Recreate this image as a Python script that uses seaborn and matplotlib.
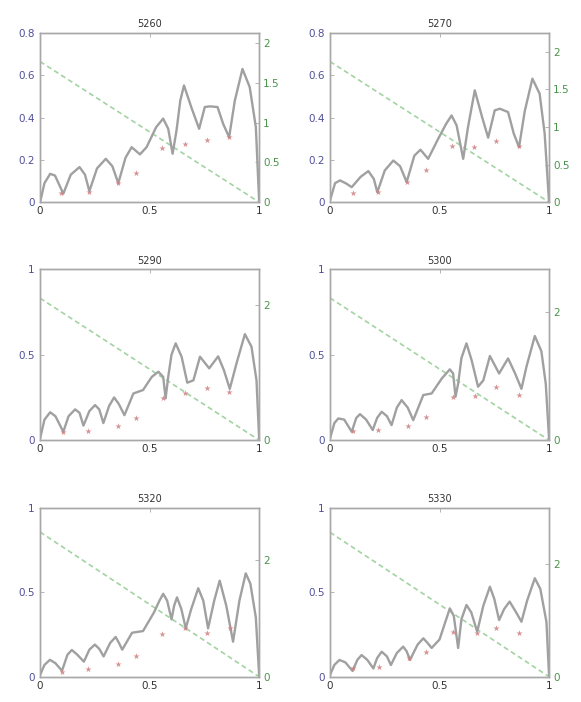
import matplotlib
matplotlib.use("Agg")
import matplotlib.pyplot as plt
import pandas as pd
import seaborn as sns

sns.set_style("white")
plt.rcParams['font.family'] = ['DejaVu Sans']

titles = ['5260', '5270', '5290', '5300', '5320', '5330']

c1_x = [0, 0.02, 0.046, 0.068, 0.106, 0.14, 0.18, 0.205, 0.225, 0.26, 0.30, 0.33, 0.357, 0.39, 0.418, 0.456, 0.486, 0.53,
        0.562, 0.585, 0.605, 0.623, 0.64, 0.657, 0.69, 0.726, 0.752, 0.775, 0.81, 0.836, 0.863, 0.889, 0.924, 0.957, 0.985, 1.0]
c1_y = [0, 0.09, 0.134, 0.126, 0.04, 0.13, 0.166, 0.13, 0.052, 0.16, 0.205, 0.17, 0.09, 0.21, 0.26, 0.226, 0.26, 0.355,
        0.395, 0.347, 0.229, 0.34, 0.48, 0.552, 0.45, 0.347, 0.45, 0.453, 0.45, 0.37, 0.307, 0.48, 0.63, 0.544, 0.355, 0.008]
m1_x = [0.096, 0.225, 0.357, 0.44, 0.558, 0.66, 0.76, 0.863]
m1_y = [0.043, 0.05, 0.09, 0.139, 0.257, 0.273, 0.292, 0.307]

c2_x = [0, 0.023, 0.046, 0.076, 0.099, 0.14, 0.175, 0.2, 0.216, 0.25, 0.289, 0.32, 0.35, 0.385, 0.413, 0.448, 0.494, 0.53,
        0.555, 0.578, 0.608, 0.63, 0.661, 0.695, 0.722, 0.752, 0.775, 0.813, 0.839, 0.863, 0.889, 0.924, 0.957, 0.98, 1.0]
c2_y = [0.008, 0.09, 0.103, 0.087, 0.071, 0.12, 0.147, 0.11, 0.047, 0.15, 0.197, 0.17, 0.095, 0.22, 0.248, 0.205, 0.30, 0.37,
        0.41, 0.363, 0.205, 0.355, 0.529, 0.40, 0.305, 0.434, 0.442, 0.426, 0.324, 0.26, 0.43, 0.584, 0.513, 0.324, 0.0]
m2_x = [0.106, 0.22, 0.35, 0.44, 0.558, 0.656, 0.76, 0.863]
m2_y = [0.043, 0.05, 0.095, 0.15, 0.268, 0.26, 0.289, 0.265]

c3_x = [0, 0.02, 0.046, 0.07, 0.106, 0.13, 0.16, 0.18, 0.198, 0.225, 0.251, 0.27, 0.289, 0.315, 0.338, 0.36, 0.385, 0.426,
        0.47, 0.51, 0.54, 0.562, 0.573, 0.585, 0.6, 0.619, 0.646, 0.672, 0.7, 0.73, 0.772, 0.813, 0.839, 0.866, 0.897, 0.935,
        0.965, 0.988, 1.0]
c3_y = [0.01, 0.12, 0.163, 0.14, 0.049, 0.14, 0.18, 0.16, 0.085, 0.17, 0.205, 0.18, 0.1, 0.2, 0.25, 0.21, 0.146, 0.273,
        0.293, 0.37, 0.40, 0.37, 0.244, 0.37, 0.5, 0.566, 0.488, 0.336, 0.35, 0.488, 0.42, 0.49, 0.41, 0.30, 0.45, 0.62,
        0.547, 0.35, 0.01]
m3_x = [0.106, 0.22, 0.357, 0.44, 0.562, 0.66, 0.76, 0.863]
m3_y = [0.05, 0.053, 0.082, 0.127, 0.244, 0.277, 0.307, 0.28]

c4_x = [0, 0.02, 0.038, 0.065, 0.099, 0.12, 0.137, 0.165, 0.195, 0.215, 0.236, 0.26, 0.281, 0.305, 0.327, 0.355, 0.38, 0.426,
        0.464, 0.51, 0.547, 0.562, 0.573, 0.585, 0.6, 0.623, 0.646, 0.676, 0.7, 0.73, 0.772, 0.813, 0.845, 0.874, 0.897, 0.935,
        0.965, 0.985, 1.0]
c4_y = [0.01, 0.1, 0.127, 0.12, 0.049, 0.13, 0.152, 0.12, 0.059, 0.13, 0.166, 0.14, 0.088, 0.19, 0.234, 0.19, 0.117, 0.264,
        0.273, 0.36, 0.414, 0.39, 0.254, 0.33, 0.48, 0.566, 0.47, 0.3125, 0.35, 0.492, 0.39, 0.478, 0.39, 0.30, 0.43, 0.609,
        0.52, 0.33, 0.01]
m4_x = [0.103, 0.22, 0.357, 0.44, 0.562, 0.66, 0.76, 0.863]
m4_y = [0.053, 0.059, 0.082, 0.133, 0.254, 0.26, 0.312, 0.264]

c5_x = [0, 0.02, 0.045, 0.07, 0.10, 0.125, 0.145, 0.17, 0.20, 0.225, 0.25, 0.27, 0.29, 0.32, 0.345, 0.36, 0.375, 0.42, 0.47,
        0.52, 0.545, 0.562, 0.58, 0.6, 0.612, 0.625, 0.645, 0.665, 0.69, 0.722, 0.745, 0.767, 0.795, 0.82, 0.85, 0.881, 0.91,
        0.939, 0.96, 0.985, 1.0]
c5_y = [0.01, 0.07, 0.10, 0.08, 0.035, 0.13, 0.158, 0.13, 0.089, 0.16, 0.19, 0.165, 0.12, 0.2, 0.235, 0.2, 0.16, 0.26, 0.27,
        0.38, 0.45, 0.49, 0.45, 0.339, 0.42, 0.469, 0.40, 0.286, 0.40, 0.523, 0.45, 0.286, 0.45, 0.568, 0.42, 0.207, 0.45,
        0.611, 0.55, 0.35, 0.01]
m5_x = [0.1, 0.22, 0.357, 0.44, 0.558, 0.66, 0.76, 0.866]
m5_y = [0.03, 0.045, 0.073, 0.124, 0.25, 0.286, 0.256, 0.286]

c6_x = [0, 0.02, 0.043, 0.07, 0.103, 0.125, 0.144, 0.17, 0.198, 0.215, 0.236, 0.26, 0.278, 0.305, 0.334, 0.35, 0.365, 0.4,
        0.426, 0.445, 0.464, 0.5, 0.547, 0.565, 0.585, 0.6, 0.623, 0.645, 0.672, 0.7, 0.73, 0.75, 0.772, 0.795, 0.82, 0.85,
        0.874, 0.9, 0.935, 0.96, 0.988, 1.0]
c6_y = [0.01, 0.07, 0.099, 0.085, 0.034, 0.10, 0.128, 0.10, 0.049, 0.11, 0.148, 0.12, 0.069, 0.14, 0.178, 0.15, 0.099, 0.19,
        0.227, 0.20, 0.17, 0.22, 0.404, 0.36, 0.17, 0.34, 0.424, 0.38, 0.266, 0.42, 0.532, 0.46, 0.335, 0.40, 0.444, 0.38,
        0.325, 0.45, 0.582, 0.52, 0.325, 0.01]
m6_x = [0.106, 0.223, 0.36, 0.44, 0.562, 0.669, 0.76, 0.863]
m6_y = [0.05, 0.06, 0.108, 0.144, 0.266, 0.256, 0.286, 0.256]

green_x = [0, 1]
green_start = [1.77, 1.87, 2.1, 2.22, 2.48, 2.56]
right_ymax = [2.13, 2.25, 2.53, 2.67, 2.9, 3.0]
left_ymax = [0.8, 0.8, 1, 1, 1, 1]
left_ticks = [[0, 0.2, 0.4, 0.6, 0.8], [0, 0.2, 0.4, 0.6, 0.8], [0, 0.5, 1], [0, 0.5, 1], [0, 0.5, 1], [0, 0.5, 1]]
left_labels = [['0', '0.2', '0.4', '0.6', '0.8'], ['0', '0.2', '0.4', '0.6', '0.8'],
               ['0', '0.5', '1'], ['0', '0.5', '1'], ['0', '0.5', '1'], ['0', '0.5', '1']]
right_ticks = [[0, 0.5, 1, 1.5, 2], [0, 0.5, 1, 1.5, 2], [0, 2], [0, 2], [0, 2], [0, 2]]
right_labels = [['0', '0.5', '1', '1.5', '2'], ['0', '0.5', '1', '1.5', '2'],
                ['0', '2'], ['0', '2'], ['0', '2'], ['0', '2']]
x_ticks = [0, 0.5, 1]
x_labels = ['0', '0.5', '1']

curves = [(c1_x, c1_y), (c2_x, c2_y), (c3_x, c3_y), (c4_x, c4_y), (c5_x, c5_y), (c6_x, c6_y)]
markers = [(m1_x, m1_y), (m2_x, m2_y), (m3_x, m3_y), (m4_x, m4_y), (m5_x, m5_y), (m6_x, m6_y)]

fig = plt.figure(figsize=(5.81, 7.02), dpi=100)
fig.patch.set_facecolor('white')

col_x0 = [0.069, 0.568]
row_y0 = [0.712, 0.373, 0.036]
row_h = [0.241, 0.2436, 0.241]
ax_w = 0.377

gray = '#a0a0a0'
spine_c = '#a8a8a8'
blue = '#50509a'
green_txt = '#4a944a'
green_line = '#a3d3a3'
red = '#cf8080'

for i in range(6):
    r, c = divmod(i, 2)
    ax = fig.add_axes([col_x0[c], row_y0[r], ax_w, row_h[r]])
    ax2 = ax.twinx()
    cx, cy = curves[i]
    mx, my = markers[i]
    df = pd.DataFrame({'x': cx, 'y': cy})
    sns.lineplot(data=df, x='x', y='y', ax=ax, color=gray, linewidth=1.7, sort=False, estimator=None)
    dm = pd.DataFrame({'x': mx, 'y': my})
    sns.scatterplot(data=dm, x='x', y='y', ax=ax, color=red, marker='*', s=22, linewidth=0, alpha=0.85, zorder=5)
    dg = pd.DataFrame({'x': green_x, 'y': [green_start[i], 0]})
    sns.lineplot(data=dg, x='x', y='y', ax=ax2, color=green_line, linewidth=1.2,
                 linestyle=(0, (3, 2)), sort=False, estimator=None)

    ax.set_xlim(0, 1)
    ax.set_ylim(0, left_ymax[i])
    ax2.set_ylim(0, right_ymax[i])
    ax.set_xticks(x_ticks)
    ax.set_xticklabels(x_labels)
    ax.set_yticks(left_ticks[i])
    ax.set_yticklabels(left_labels[i])
    ax2.set_yticks(right_ticks[i])
    ax2.set_yticklabels(right_labels[i])
    ax.set_xlabel('')
    ax.set_ylabel('')
    ax2.set_xlabel('')
    ax2.set_ylabel('')
    ax.set_title(titles[i], fontsize=7, color='#333333', pad=4)

    ax.tick_params(axis='x', direction='in', length=3, width=0.6, colors=spine_c, labelcolor='#333333',
                   labelsize=7.5, top=True, pad=3)
    ax.tick_params(axis='y', direction='in', length=3, width=0.6, colors=spine_c, labelcolor=blue,
                   labelsize=7.5, pad=4)
    ax2.tick_params(axis='y', direction='in', length=3, width=0.6, colors=spine_c, labelcolor=green_txt,
                    labelsize=7.5, pad=3)
    for a in (ax, ax2):
        for s in a.spines.values():
            s.set_color(spine_c)
            s.set_linewidth(1.0)
    ax.set_zorder(ax2.get_zorder() + 1)
    ax.patch.set_visible(False)

fig.savefig('out.png', dpi=100, facecolor='white')
